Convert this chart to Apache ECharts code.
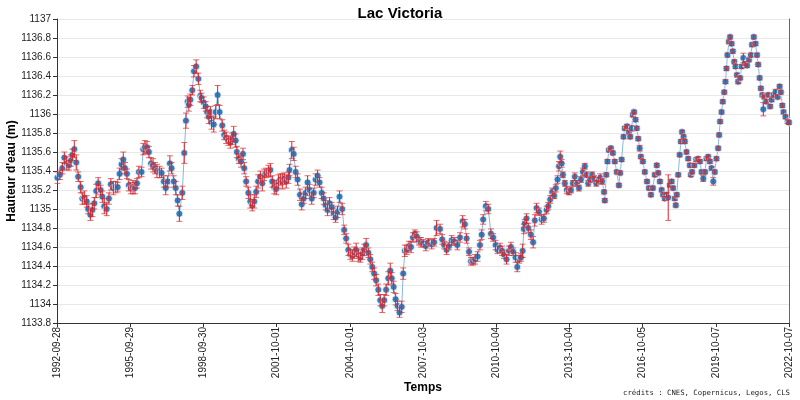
<!DOCTYPE html>
<html>
<head>
<meta charset="utf-8">
<script src="https://cdn.jsdelivr.net/npm/echarts@6/dist/echarts.min.js"></script>
<style>
html,body{margin:0;padding:0;background:#fff;}
#chart{width:800px;height:400px;}
</style>
</head>
<body>
<div id="chart"></div>
<script>
// ---- data ----
const titre = 'Lac Victoria';
const dateDebut = '1992-09-28';
const dateFin = '2022-10-07';
const tickLabels = ['1992-09-28','1995-09-29','1998-09-30','2001-10-01','2004-10-01','2007-10-03','2010-10-04','2013-10-04','2016-10-05','2019-10-07','2022-10-07'];
const yTicks = {min: 1133.8, max: 1137, step: 0.2};

// time in decimal years
const temps = [
1992.76,1992.86,1992.96,1993.04,1993.14,1993.23,1993.31,1993.37,1993.45,1993.53,1993.61,1993.71,1993.78,1993.86,1993.96,
1994.02,1994.11,1994.19,1994.27,1994.35,1994.43,1994.53,1994.60,1994.68,1994.78,1994.87,1994.95,
1995.05,1995.15,1995.23,1995.31,1995.39,1995.46,1995.53,1995.61,1995.69,1995.77,1995.86,1995.94,
1996.02,1996.10,1996.21,1996.28,1996.35,1996.43,1996.51,1996.60,1996.68,1996.76,1996.84,1996.95,
1997.03,1997.12,1997.20,1997.28,1997.37,1997.44,1997.53,1997.61,1997.69,1997.76,1997.88,1997.96,
1998.03,1998.10,1998.15,1998.21,1998.29,1998.36,1998.45,1998.54,1998.62,1998.67,1998.76,1998.84,1998.90,1998.97,
1999.03,1999.08,1999.17,1999.25,1999.33,1999.41,1999.52,1999.60,1999.68,1999.77,1999.85,1999.93,1999.99,
2000.07,2000.12,2000.20,2000.29,2000.37,2000.42,2000.50,2000.59,2000.67,2000.75,2000.83,2000.91,2000.99,
2001.08,2001.16,2001.24,2001.32,2001.41,2001.49,2001.57,2001.65,2001.73,2001.82,2001.90,2001.98,
2002.06,2002.14,2002.23,2002.28,2002.37,2002.45,2002.53,2002.61,2002.71,2002.78,2002.86,2002.94,
2003.02,2003.10,2003.19,2003.27,2003.35,2003.43,2003.51,2003.60,2003.68,2003.76,2003.84,2003.92,
2004.01,2004.09,2004.17,2004.25,2004.33,2004.44,2004.52,2004.60,2004.69,2004.77,2004.85,2004.93,
2005.01,2005.10,2005.18,2005.26,2005.34,2005.42,2005.51,2005.59,2005.67,2005.75,2005.83,2005.92,
2006.00,2006.08,2006.16,2006.24,2006.33,2006.41,2006.47,2006.55,2006.63,2006.71,2006.79,2006.88,2006.94,
2007.01,2007.09,2007.18,2007.26,2007.34,2007.42,2007.50,2007.59,2007.67,2007.76,2007.87,2007.97,
2008.11,2008.21,2008.31,2008.45,2008.54,2008.62,2008.72,2008.82,2008.93,
2009.03,2009.16,2009.27,2009.38,2009.47,2009.54,2009.64,2009.72,2009.81,2009.89,2009.99,
2010.09,2010.16,2010.22,2010.33,2010.43,2010.54,2010.63,2010.73,2010.81,2010.91,
2011.00,2011.08,2011.18,2011.28,2011.36,2011.45,2011.55,2011.62,2011.70,2011.77,2011.84,2011.89,2011.93,
2012.00,2012.07,2012.18,2012.27,2012.34,2012.41,2012.51,2012.62,2012.71,2012.82,2012.89,2012.97,
2013.05,2013.13,2013.20,2013.27,2013.33,2013.38,2013.44,2013.49,2013.57,2013.65,2013.74,2013.82,2013.90,2013.98,
2014.07,2014.15,2014.23,2014.31,2014.39,2014.46,2014.53,2014.61,2014.69,2014.77,2014.86,2014.94,
2015.02,2015.10,2015.18,2015.21,2015.27,2015.32,2015.38,2015.46,2015.54,2015.62,2015.70,2015.79,2015.84,2015.90,2015.98,
2016.03,2016.12,2016.20,2016.25,2016.31,2016.36,2016.41,2016.47,2016.52,2016.58,2016.64,2016.69,2016.77,2016.85,2016.94,
2017.02,2017.10,2017.18,2017.26,2017.34,2017.40,2017.47,2017.54,2017.60,2017.67,2017.74,2017.81,2017.88,2017.95,
2018.01,2018.08,2018.12,2018.16,2018.22,2018.28,2018.33,2018.38,2018.44,2018.49,2018.56,2018.63,2018.70,2018.74,2018.79,2018.88,2018.96,
2019.04,2019.11,2019.18,2019.25,2019.32,2019.38,2019.45,2019.52,2019.59,2019.66,2019.72,2019.79,2019.86,2019.90,2019.94,
2020.00,2020.05,2020.11,2020.16,2020.20,2020.24,2020.30,2020.35,2020.41,2020.46,2020.52,2020.57,2020.63,2020.68,2020.76,2020.82,2020.89,2020.96,
2021.04,2021.12,2021.20,2021.25,2021.32,2021.39,2021.45,2021.50,2021.56,2021.61,2021.67,2021.71,2021.75,2021.83,2021.91,2021.99,
2022.05,2022.13,2022.21,2022.30,2022.38,2022.43,2022.49,2022.54,2022.62,2022.71,2022.76
];

// water height (m)
const hauteur = [
1135.33,1135.36,1135.43,1135.54,1135.48,1135.46,1135.51,1135.57,1135.63,1135.49,1135.34,1135.23,1135.11,1135.12,1135.08,
1135.00,1134.94,1134.99,1135.06,1135.19,1135.27,1135.20,1135.13,1135.03,1135.00,1135.11,1135.26,
1135.22,1135.23,1135.23,1135.37,1135.47,1135.52,1135.43,1135.37,1135.25,1135.22,1135.23,1135.22,
1135.27,1135.39,1135.39,1135.63,1135.65,1135.65,1135.60,1135.48,1135.46,1135.43,1135.40,1135.39,
1135.38,1135.29,1135.22,1135.29,1135.48,1135.43,1135.29,1135.22,1135.09,1134.95,1135.17,1135.59,
1135.93,1136.13,1136.10,1136.15,1136.25,1136.45,1136.50,1136.37,1136.19,1136.17,1136.12,1136.08,1136.02,1135.97,
1136.02,1135.91,1135.89,1136.02,1136.20,1136.02,1135.88,1135.78,1135.75,1135.72,1135.70,1135.74,1135.79,
1135.72,1135.60,1135.53,1135.50,1135.58,1135.43,1135.29,1135.17,1135.08,1135.04,1135.08,1135.18,1135.29,
1135.34,1135.27,1135.36,1135.38,1135.40,1135.41,1135.29,1135.23,1135.21,1135.29,1135.31,1135.29,
1135.32,1135.29,1135.33,1135.41,1135.62,1135.58,1135.39,1135.31,1135.15,1135.05,1135.11,1135.17,
1135.28,1135.20,1135.11,1135.17,1135.31,1135.35,1135.28,1135.17,1135.11,1135.04,1134.99,1135.06,
1135.02,1134.95,1134.91,1134.97,1135.13,1135.00,1134.78,1134.69,1134.57,1134.52,1134.51,1134.54,
1134.57,1134.51,1134.49,1134.53,1134.57,1134.62,1134.54,1134.47,1134.39,1134.32,1134.25,1134.15,
1134.04,1133.98,1134.04,1134.15,1134.27,1134.35,1134.27,1134.18,1134.05,1133.98,1133.91,1133.97,1134.32,
1134.56,1134.57,1134.61,1134.60,1134.70,1134.74,1134.71,1134.66,1134.65,1134.64,1134.61,1134.65,
1134.63,1134.65,1134.80,1134.79,1134.68,1134.62,1134.57,1134.61,1134.67,
1134.66,1134.62,1134.70,1134.87,1134.84,1134.69,1134.55,1134.45,1134.45,1134.47,1134.50,
1134.62,1134.73,1134.89,1135.03,1135.00,1134.74,1134.70,1134.62,1134.57,1134.59,
1134.56,1134.52,1134.47,1134.56,1134.60,1134.55,1134.49,1134.39,1134.47,1134.49,1134.56,1134.79,1134.85,
1134.90,1134.80,1134.73,1134.65,1134.88,1135.01,1134.97,1134.89,1134.90,1134.99,1135.03,1135.10,
1135.18,1135.14,1135.22,1135.31,1135.45,1135.55,1135.48,1135.36,1135.27,1135.20,1135.18,1135.20,1135.27,1135.34,
1135.27,1135.22,1135.31,1135.39,1135.45,1135.36,1135.27,1135.31,1135.36,1135.32,1135.27,1135.30,
1135.33,1135.29,1135.18,1135.09,1135.36,1135.50,1135.62,1135.64,1135.59,1135.50,1135.39,1135.25,1135.38,1135.52,1135.76,
1135.85,1135.87,1135.81,1135.76,1135.85,1135.99,1136.02,1135.94,1135.85,1135.74,1135.64,1135.55,1135.50,1135.39,1135.29,
1135.22,1135.15,1135.22,1135.36,1135.46,1135.38,1135.29,1135.20,1135.15,1135.11,1135.15,1135.12,1135.25,1135.29,
1135.22,1135.11,1135.04,1135.15,1135.36,1135.57,1135.71,1135.81,1135.76,1135.71,1135.60,1135.53,1135.46,1135.36,1135.39,1135.46,1135.52,
1135.53,1135.50,1135.39,1135.32,1135.39,1135.53,1135.55,1135.50,1135.43,1135.29,1135.39,1135.53,1135.64,1135.78,1135.92,
1136.02,1136.13,1136.23,1136.34,1136.48,1136.62,1136.76,1136.81,1136.74,1136.66,1136.55,1136.50,1136.41,1136.34,1136.38,1136.50,1136.59,1136.53,
1136.51,1136.57,1136.62,1136.73,1136.81,1136.74,1136.62,1136.52,1136.38,1136.27,1136.20,1136.05,1136.18,1136.13,1136.20,1136.08,
1136.15,1136.20,1136.23,1136.18,1136.29,1136.23,1136.09,1136.02,1135.97,1135.92,1135.91
];

// uncertainty (m), half error bar
const erreur = [
.06,.05,.06,.06,.07,.05,.06,.06,.09,.08,.05,.06,.06,.07,.06,
.05,.06,.07,.06,.07,.06,.05,.06,.08,.07,.06,.06,
.07,.06,.05,.06,.06,.08,.06,.05,.06,.06,.07,.06,
.05,.06,.05,.06,.07,.06,.06,.06,.07,.06,.07,.06,
.05,.06,.07,.06,.08,.06,.06,.07,.06,.08,.07,.11,
.08,.06,.07,.06,.05,.06,.07,.06,.06,.05,.06,.05,.06,.07,
.06,.07,.08,.07,.10,.07,.06,.05,.06,.05,.06,.06,.08,
.07,.06,.05,.06,.06,.06,.05,.06,.07,.06,.07,.06,.07,
.06,.08,.06,.05,.06,.07,.06,.07,.06,.07,.06,.08,
.06,.07,.06,.06,.09,.07,.06,.06,.06,.06,.05,.06,
.07,.06,.06,.05,.06,.06,.05,.06,.06,.05,.06,.06,
.05,.06,.05,.06,.06,.06,.05,.05,.06,.05,.06,.06,
.07,.06,.05,.06,.06,.07,.05,.05,.05,.06,.06,.06,
.06,.07,.06,.06,.07,.08,.06,.06,.06,.05,.05,.06,.06,
.06,.05,.05,.06,.05,.04,.05,.04,.05,.04,.05,.04,
.05,.04,.08,.05,.05,.04,.05,.04,.05,
.04,.05,.05,.06,.05,.05,.04,.04,.04,.05,.05,
.05,.05,.05,.05,.05,.05,.04,.05,.04,.05,
.05,.04,.05,.05,.05,.04,.05,.05,.04,.04,.07,.05,.04,
.05,.05,.05,.06,.06,.05,.04,.05,.04,.04,.04,.04,
.04,.03,.04,.04,.05,.06,.04,.03,.03,.04,.03,.03,.03,.04,
.03,.03,.03,.04,.03,.03,.03,.03,.03,.03,.03,.03,
.04,.03,.02,.02,.02,.02,.02,.02,.02,.02,.02,.02,.02,.02,.02,
.02,.02,.02,.02,.03,.02,.02,.02,.02,.02,.03,.02,.02,.02,.02,
.02,.02,.02,.02,.02,.02,.02,.02,.02,.02,.02,.24,.02,.02,
.02,.02,.02,.02,.02,.02,.02,.02,.02,.02,.02,.02,.02,.02,.02,.02,.02,
.02,.02,.02,.03,.02,.02,.02,.02,.02,.04,.02,.02,.02,.02,.02,
.02,.02,.02,.02,.02,.02,.02,.02,.02,.02,.02,.02,.02,.02,.02,.02,.05,.02,
.02,.02,.02,.02,.02,.02,.02,.02,.02,.02,.02,.07,.02,.02,.02,.02,
.02,.02,.03,.02,.02,.02,.02,.02,.02,.02,.02
];

// ---- build ----
const DAY = 86400000;
function parseDate(s){ const p = s.split('-').map(Number); return Date.UTC(p[0], p[1]-1, p[2]); }
const t0 = parseDate(dateDebut);
const SPAN = (parseDate(dateFin) - t0) / DAY;
const STEP = SPAN / 10;
function yearToDays(y){
  const Y = Math.floor(y);
  const a = Date.UTC(Y,0,1), b = Date.UTC(Y+1,0,1);
  return (a + (y - Y) * (b - a) - t0) / DAY;
}
const n = Math.min(temps.length, hauteur.length, erreur.length);
const lineData = [], errData = [];
for (let i = 0; i < n; i++) {
  const d = yearToDays(temps[i]);
  lineData.push([d, hauteur[i]]);
  errData.push([d, hauteur[i] - erreur[i], hauteur[i] + erreur[i]]);
}

const chart = echarts.init(document.getElementById('chart'), null, {renderer:'canvas'});
const FONT = 'Liberation Sans, Arial, sans-serif';
chart.setOption({
  animation: false,
  title: {text: titre, left: 'center', top: 1, textStyle: {fontFamily: FONT, fontWeight: 'bold', fontSize: 15, color: '#000'}},
  grid: {left: 57, right: 11, top: 19, bottom: 77, containLabel: false, outerBoundsMode: 'none'},
  xAxis: {
    type: 'value', min: 0, max: SPAN, interval: STEP,
    name: 'Temps', nameLocation: 'middle', nameGap: 59, nameMoveOverlap: false,
    nameTextStyle: {fontFamily: FONT, fontWeight: 'bold', fontSize: 12, color: '#000'},
    axisLine: {lineStyle: {color: '#333', width: 1}},
    axisTick: {length: 4, lineStyle: {color: '#333'}},
    axisLabel: {rotate: 90, fontFamily: FONT, fontSize: 10, color: '#222', margin: 4,
      formatter: v => tickLabels[Math.round(v / STEP)] || ''},
    splitLine: {show: false}
  },
  yAxis: [{
    type: 'value', min: yTicks.min, max: yTicks.max, interval: yTicks.step,
    name: "Hauteur d'eau (m)", nameLocation: 'middle', nameGap: 39, nameMoveOverlap: false,
    nameTextStyle: {fontFamily: FONT, fontWeight: 'bold', fontSize: 12, color: '#000'},
    axisLine: {show: true, lineStyle: {color: '#333', width: 1}},
    axisTick: {show: true, length: 4, lineStyle: {color: '#333'}},
    axisLabel: {fontFamily: FONT, fontSize: 10, color: '#222', margin: 6,
      formatter: v => String(Math.round(v * 10) / 10)},
    splitLine: {show: true, lineStyle: {color: '#e8e8e8', width: 1}}
  }, {
    type: 'value', min: yTicks.min, max: yTicks.max, position: 'right',
    axisLine: {show: true, lineStyle: {color: '#666', width: 1}},
    axisTick: {show: false}, axisLabel: {show: false}, splitLine: {show: false}
  }],
  graphic: [{
    type: 'text', right: 10, top: 390,
    style: {text: 'crédits : CNES, Copernicus, Legos, CLS', font: '7.3px "DejaVu Sans Mono", monospace', fill: '#222'}
  }],
  series: [{
    type: 'line', data: lineData, z: 2,
    symbol: 'circle', symbolSize: 7, showSymbol: true,
    lineStyle: {color: '#86b7de', width: 1},
    itemStyle: {color: '#2f7fc1', borderColor: 'rgba(255,255,255,0.75)', borderWidth: 1}
  }, {
    type: 'custom', data: errData, z: 3,
    encode: {x: 0, y: [1, 2]},
    renderItem: function (params, api) {
      const x = api.value(0);
      const top = api.coord([x, api.value(2)]);
      const bot = api.coord([x, api.value(1)]);
      const w = 3;
      return {type: 'group', children: [
        {type: 'line', shape: {x1: top[0], y1: top[1], x2: bot[0], y2: bot[1]}, style: {stroke: '#d8232a', lineWidth: 1}},
        {type: 'line', shape: {x1: top[0]-w, y1: top[1], x2: top[0]+w, y2: top[1]}, style: {stroke: 'rgba(220,40,40,0.7)', lineWidth: 1}},
        {type: 'line', shape: {x1: bot[0]-w, y1: bot[1], x2: bot[0]+w, y2: bot[1]}, style: {stroke: 'rgba(220,40,40,0.7)', lineWidth: 1}}
      ]};
    }
  }]
});
</script>
</body>
</html>
